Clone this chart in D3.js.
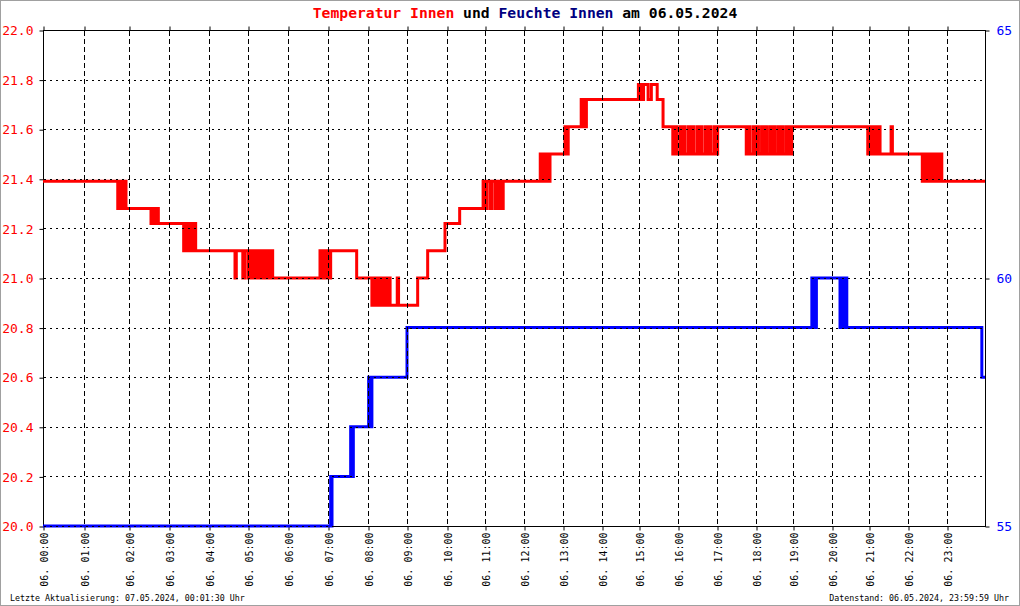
<!DOCTYPE html>
<html>
<head>
<meta charset="utf-8">
<script src="https://cdn.jsdelivr.net/npm/d3@7"></script>
<style>
  body { margin: 0; background: #fff; }
  svg { display: block; font-family: "DejaVu Sans Mono", monospace; }
</style>
</head>
<body>
<div id="container"></div>
<script>
// tick labels
const xTickLabels = ["06. 00:00","06. 01:00","06. 02:00","06. 03:00","06. 04:00","06. 05:00",
  "06. 06:00","06. 07:00","06. 08:00","06. 09:00","06. 10:00","06. 11:00","06. 12:00",
  "06. 13:00","06. 14:00","06. 15:00","06. 16:00","06. 17:00","06. 18:00","06. 19:00",
  "06. 20:00","06. 21:00","06. 22:00","06. 23:00"];
const tempTicks = [20.0, 20.2, 20.4, 20.6, 20.8, 21.0, 21.2, 21.4, 21.6, 21.8, 22.0];
const humTicks = [55, 60, 65];

// Temperatur Innen [time, °C]
const tempData = [
  ["00:00",21.39],["01:45",21.28],["01:47",21.39],["01:49",21.28],["01:51",21.39],["01:53",21.28],["01:55",21.39],["01:56",21.28],
  ["02:33",21.22],["02:35",21.28],["02:38",21.22],["02:41",21.28],["02:44",21.22],
  ["03:22",21.11],["03:25",21.22],["03:27",21.11],["03:30",21.22],["03:34",21.11],["03:37",21.22],["03:40",21.11],
  ["04:40",21.0],["04:42",21.11],
  ["04:52",21.0],["04:55",21.11],["05:00",21.0],["05:02",21.11],["05:04",21.0],["05:06",21.11],["05:08",21.0],["05:11",21.11],
  ["05:13",21.0],["05:15",21.11],["05:17",21.0],["05:20",21.11],["05:22",21.0],["05:24",21.11],["05:25",21.0],["05:27",21.11],
  ["05:28",21.0],["05:30",21.11],["05:33",21.0],["05:35",21.11],["05:37",21.0],
  ["06:48",21.11],["06:50",21.0],["06:52",21.11],["06:55",21.0],["06:58",21.11],["07:01",21.0],["07:04",21.11],
  ["07:43",21.0],
  ["08:06",20.89],["08:08",21.0],["08:10",20.89],["08:13",21.0],["08:16",20.89],["08:19",21.0],["08:22",20.89],
  ["08:25",21.0],["08:28",20.89],["08:31",21.0],["08:34",20.89],
  ["08:45",21.0],["08:47",20.89],
  ["09:16",21.0],["09:31",21.11],["09:57",21.22],["10:20",21.28],
  ["10:57",21.39],["11:00",21.28],["11:03",21.39],["11:08",21.28],["11:10",21.39],["11:15",21.28],["11:18",21.39],
  ["11:22",21.28],["11:24",21.39],["11:26",21.28],["11:28",21.39],
  ["12:25",21.5],["12:27",21.39],["12:29",21.5],["12:32",21.39],["12:35",21.5],["12:37",21.39],["12:40",21.5],
  ["13:03",21.61],["13:05",21.5],["13:08",21.61],
  ["13:28",21.72],["13:30",21.61],["13:32",21.72],["13:34",21.61],["13:36",21.72],
  ["14:59",21.78],["15:01",21.72],["15:03",21.78],["15:05",21.72],["15:07",21.78],["15:14",21.72],["15:19",21.78],
  ["15:28",21.72],["15:37",21.61],
  ["15:52",21.5],["15:55",21.61],["15:58",21.5],["16:03",21.61],["16:05",21.5],["16:08",21.61],["16:11",21.5],
  ["16:16",21.61],["16:18",21.5],["16:21",21.61],["16:24",21.5],["16:29",21.61],["16:31",21.5],["16:34",21.61],
  ["16:37",21.5],["16:42",21.61],["16:44",21.5],["16:47",21.61],["16:50",21.5],["16:55",21.61],["16:57",21.5],
  ["17:01",21.61],
  ["17:45",21.5],["17:48",21.61],["17:51",21.5],["17:56",21.61],["17:58",21.5],["18:01",21.61],["18:04",21.5],
  ["18:09",21.61],["18:11",21.5],["18:14",21.61],["18:17",21.5],["18:22",21.61],["18:24",21.5],["18:27",21.61],
  ["18:30",21.5],["18:35",21.61],["18:37",21.5],["18:40",21.61],["18:43",21.5],["18:48",21.61],["18:50",21.5],
  ["18:53",21.61],["18:56",21.5],["18:58",21.61],
  ["20:58",21.5],["21:01",21.61],["21:05",21.5],["21:08",21.61],["21:12",21.5],["21:14",21.61],["21:17",21.5],
  ["21:34",21.61],["21:36",21.5],
  ["22:22",21.39],["22:25",21.5],["22:29",21.39],["22:32",21.5],["22:36",21.39],["22:39",21.5],["22:43",21.39],
  ["22:46",21.5],["22:50",21.39],["22:51",21.5],["22:52",21.39],
  ["24:00",21.39]
];

// Feuchte Innen [time, %]
const humData = [
  ["00:00",55],["07:04",56],["07:05",55],["07:06",56],
  ["07:34",57],["07:36",56],["07:38",57],
  ["08:01",58],["08:03",57],["08:06",58],
  ["09:00",59],
  ["19:29",60],["19:33",59],["19:36",60],
  ["20:13",59],["20:15",60],["20:18",59],["20:20",60],["20:24",59],
  ["23:55",58],["24:00",58]
];

// the original x axis is not evenly spaced per hour
const hourStops = d3.range(0, 25);
const hourPx = [43,84,129,169,209,248,288,328,368,407,447,485,524,563,602,639,678,717,756,793,832,869,908,947,985];

const w = 1020, h = 606;
const mTop = 30, mBottom = 526, mLeft = 43, mRight = 985;

const toHours = s => { const p = s.split(":"); return +p[0] + p[1] / 60; };

const x = d3.scaleLinear().domain(hourStops).range(hourPx);
const yT = d3.scaleLinear().domain([20, 22]).range([mBottom, mTop]);
const yH = d3.scaleLinear().domain([55, 65]).range([mBottom, mTop]);

const svg = d3.select("#container").append("svg")
  .attr("width", w).attr("height", h);

svg.append("rect")
  .attr("x", 0.5).attr("y", 0.5).attr("width", w - 1).attr("height", h - 1)
  .attr("fill", "#fff").attr("stroke", "#a0a0a0");

// frame
svg.append("rect")
  .attr("x", mLeft + 0.5).attr("y", mTop + 0.5)
  .attr("width", mRight - mLeft).attr("height", mBottom - mTop)
  .attr("fill", "none").attr("stroke", "#000");

// left axis
const axL = svg.append("g").attr("transform", `translate(${mLeft + 0.5},0.5)`)
  .call(d3.axisLeft(yT).tickValues(tempTicks).tickFormat(d3.format(".1f")).tickSize(4).tickPadding(6));
axL.select(".domain").remove();
axL.selectAll("text").attr("fill", "#ff0000").style("font-size", "13px").style("font-family", "DejaVu Sans Mono");

// right axis
const axR = svg.append("g").attr("transform", `translate(${mRight + 0.5},0.5)`)
  .call(d3.axisRight(yH).tickValues(humTicks).tickSize(4).tickPadding(7));
axR.select(".domain").remove();
axR.selectAll("text").attr("fill", "#0000ff").style("font-size", "13px").style("font-family", "DejaVu Sans Mono");

// bottom axis
const axB = svg.append("g").attr("transform", `translate(0.5,${mBottom + 0.5})`)
  .call(d3.axisBottom(x).tickValues(d3.range(0, 24)).tickFormat((d, i) => xTickLabels[i]).tickSize(4));
axB.select(".domain").remove();
axB.selectAll("text")
  .attr("transform", "rotate(-90)")
  .attr("x", -6).attr("y", 0).attr("dy", "0.35em")
  .attr("text-anchor", "end")
  .attr("fill", "#000")
  .style("font-size", "10px").style("font-family", "DejaVu Sans Mono");

// top ticks
const axT = svg.append("g").attr("transform", `translate(0.5,${mTop + 0.5})`)
  .call(d3.axisTop(x).tickValues(d3.range(0, 24)).tickFormat("").tickSize(4));
axT.select(".domain").remove();

// data lines
const line = d3.line().curve(d3.curveStepAfter);

svg.append("path")
  .attr("d", line(tempData.map(d => [x(toHours(d[0])), yT(d[1])])))
  .attr("fill", "none").attr("stroke", "#ff0000").attr("stroke-width", 3);

svg.append("path")
  .attr("d", line(humData.map(d => [x(toHours(d[0])), yH(d[1])])))
  .attr("fill", "none").attr("stroke", "#0000ff").attr("stroke-width", 3);

// grid on top of the lines
const grid = svg.append("g").attr("stroke", "#000").attr("shape-rendering", "crispEdges");
grid.selectAll(".vg").data(d3.range(1, 24)).enter().append("line")
  .attr("class", "vg")
  .attr("x1", d => Math.round(x(d)) + 0.5).attr("x2", d => Math.round(x(d)) + 0.5)
  .attr("y1", mTop + 1).attr("y2", mBottom)
  .attr("stroke-dasharray", "5,3");
grid.selectAll(".hg").data(tempTicks.slice(0, -1)).enter().append("line")
  .attr("class", "hg")
  .attr("x1", mLeft + 1).attr("x2", mRight)
  .attr("y1", d => Math.round(yT(d)) + 0.5).attr("y2", d => Math.round(yT(d)) + 0.5)
  .attr("stroke-dasharray", "2,4");

// title
const title = svg.append("text")
  .attr("x", 525).attr("y", 18)
  .attr("text-anchor", "middle")
  .style("font-size", "14.7px").style("font-weight", "bold");
title.append("tspan").attr("fill", "#ff0000").text("Temperatur Innen");
title.append("tspan").attr("fill", "#000").text(" und ");
title.append("tspan").attr("fill", "#000080").text("Feuchte Innen");
title.append("tspan").attr("fill", "#000").text(" am 06.05.2024");

// footer
svg.append("text").attr("x", 10).attr("y", 601)
  .style("font-size", "8.3px").text("Letzte Aktualisierung: 07.05.2024, 00:01:30 Uhr");
svg.append("text").attr("x", 1009).attr("y", 601).attr("text-anchor", "end")
  .style("font-size", "8.3px").text("Datenstand: 06.05.2024, 23:59:59 Uhr");
</script>
</body>
</html>
